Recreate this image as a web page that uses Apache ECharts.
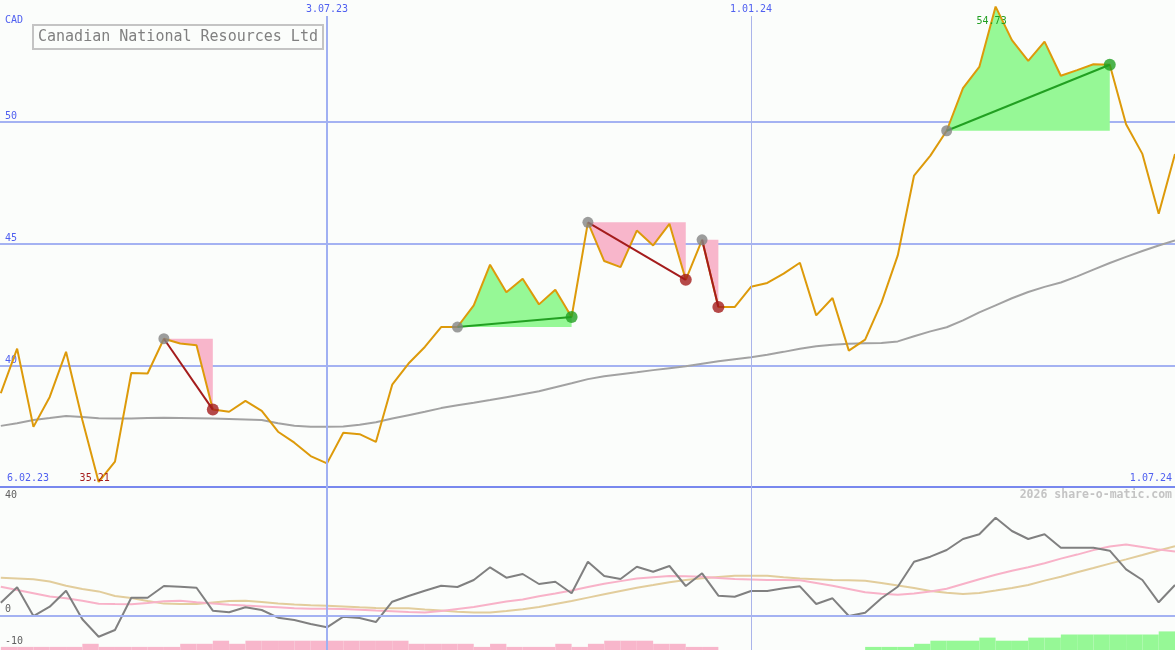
<!DOCTYPE html>
<html><head><meta charset="utf-8">
<script src="https://cdn.jsdelivr.net/npm/echarts@6/dist/echarts.min.js"></script>
<style>html,body{margin:0;padding:0;background:#fbfdfb}#c{width:1175px;height:650px}</style>
</head><body><div id="c"></div>
<script>
// ---- data (weekly points, index 0 = 13.02.23) ----
const chartTitle = 'Canadian National Resources Ltd';
const currency = 'CAD';
const startLabel = '6.02.23';
const endLabel = '1.07.24';
const topTickIdx = [20, 46];
const topTickLabels = ['3.07.23', '1.01.24'];
const lowerTickLabels = ['40', '0', '-10'];
const watermark = '2026 share-o-matic.com';

const price = [38.85,40.68,37.47,38.70,40.55,37.75,35.21,36.04,39.68,39.66,
  41.09,40.89,40.82,38.18,38.09,38.54,38.13,37.27,36.82,36.27,
  35.97,37.23,37.17,36.85,39.20,40.07,40.75,41.57,41.57,42.46,
  44.13,43.00,43.55,42.50,43.10,41.98,45.87,44.28,44.03,45.53,
  44.92,45.81,43.51,45.15,42.39,42.39,43.22,43.38,43.76,44.21,
  42.05,42.76,40.60,41.05,42.57,44.51,47.79,48.61,49.63,51.38,
  52.25,54.73,53.35,52.50,53.29,51.89,52.12,52.36,52.34,49.90,
  48.68,46.22,48.68];
const priceMA = [37.51,37.62,37.75,37.83,37.92,37.87,37.82,37.81,37.81,37.83,
  37.84,37.83,37.82,37.81,37.79,37.77,37.75,37.62,37.52,37.47,
  37.47,37.48,37.56,37.66,37.81,37.95,38.09,38.24,38.36,38.46,
  38.57,38.69,38.81,38.93,39.10,39.26,39.43,39.55,39.63,39.71,
  39.80,39.88,39.96,40.06,40.16,40.25,40.33,40.43,40.55,40.68,
  40.78,40.84,40.88,40.90,40.91,40.98,41.19,41.39,41.56,41.84,
  42.17,42.46,42.75,43.01,43.22,43.40,43.65,43.93,44.20,44.45,
  44.69,44.92,45.12];
const momentum = [4.43,9.57,0,3.1,8.43,-1.1,-6.9,-4.67,6.1,6.1,
  10,9.77,9.43,1.77,1.23,2.9,2,-0.57,-1.33,-2.67,
  -3.77,-0.23,-0.67,-2,4.77,6.67,8.43,10.1,9.67,12,
  16.23,12.77,14,10.67,11.43,7.57,18.1,13.33,12.33,16.43,
  14.77,16.67,10,14.23,6.77,6.43,8.33,8.33,9.23,9.9,
  4,5.9,0,1.1,5.9,9.77,18.1,19.77,22,25.67,
  27.23,32.77,28.33,25.67,27.23,22.77,22.77,22.77,21.77,15.57,
  12,4.57,10.33];
const momFast = [9.77,8.67,7.6,6.5,5.93,5.07,4.07,3.97,3.9,4.33,
  4.9,5.1,4.6,4.13,3.77,3.47,3.2,2.9,2.57,2.43,
  2.43,2.3,2.1,1.8,1.57,1.3,1.2,1.7,2.37,3,
  3.9,4.8,5.53,6.6,7.53,8.5,9.67,10.77,11.63,12.47,
  12.9,13.33,13.23,13.07,12.7,12.33,12.17,12,12,11.9,
  11,10.07,9,7.93,7.43,7.07,7.53,8.17,9.1,10.67,
  12.23,13.77,15.07,16.27,17.57,19.13,20.47,21.97,23.17,23.83,
  23.03,22.13,21.47];
const momSlow = [12.77,12.5,12.23,11.5,10.07,9,8.2,6.67,5.97,5,
  4.13,4,4,4.53,5,5.1,4.67,4.17,3.8,3.57,
  3.4,3.17,2.9,2.7,2.6,2.6,2.2,1.83,1.43,1.2,
  1.13,1.67,2.23,3,4.03,5,6.13,7.23,8.33,9.43,
  10.33,11.27,11.97,12.57,13.03,13.43,13.43,13.43,12.9,12.47,
  12.23,12,11.9,11.77,11.03,10.17,9.33,8.3,7.77,7.33,
  7.67,8.47,9.33,10.33,11.8,13.1,14.6,16,17.47,18.87,
  20.33,21.83,23.27];
// signal strength per week interval (negative = pink, positive = green)
const barLevels = [-1,-1,-1,-1,-1,-2,-1,-1,-1,-1,
  -1,-2,-2,-3,-2,-3,-3,-3,-3,-3,
  -3,-3,-3,-3,-3,-2,-2,-2,-2,-1,
  -2,-1,-1,-1,-2,-1,-2,-3,-3,-3,
  -2,-2,-1,-1,0,0,0,0,0,0,
  0,0,0,1,1,1,2,3,3,3,
  4,3,3,4,4,5,5,5,5,5,
  5,6];
const tradeStart = [10, 28, 36, 43, 58];
const tradeEnd   = [13, 35, 42, 44, 68];

// ---- styling ----
const FONT = 'DejaVu Sans Mono';
const BLUE_TXT = '#5060f0';
const GRID_BLUE = '#a4b2f2';
const PINK = '#f8b6cb';
const GREEN = '#96f896';
const X_MIN = -0.05, X_MAX = 72.0;
const MAIN_TOP = 54.34; // value at the top end of the vertical date lines

const chart = echarts.init(document.getElementById('c'), null, {renderer: 'canvas'});
const win = t => price[tradeEnd[t]] > price[tradeStart[t]];

const scatterData = [];
tradeStart.forEach((s, t) => {
  scatterData.push({value: [s, price[s]], symbolSize: 11, itemStyle: {color: '#858585'}});
  const e = tradeEnd[t];
  scatterData.push({value: [e, price[e]], symbolSize: 12, itemStyle: {color: win(t) ? '#22a022' : '#a41c1c'}});
});

const vLineStyles = [{color: '#a0b0f2', width: 2}, {color: '#aab4ea', width: 1}];

const option = {
  backgroundColor: '#fbfdfb',
  animation: false,
  title: {
    text: chartTitle, left: 33, top: 25, padding: [5, 5, 4, 5],
    borderColor: '#c4c4c4', borderWidth: 2,
    textStyle: {fontFamily: FONT, fontSize: 15, fontWeight: 'normal', color: '#808080'}
  },
  grid: [
    {left: 0, right: 0, top: 0, height: 487},
    {left: 0, right: 0, top: 487, bottom: 0}
  ],
  xAxis: [
    {type: 'value', gridIndex: 0, min: X_MIN, max: X_MAX, position: 'bottom',
     axisLine: {show: true, onZero: false, lineStyle: {color: '#7888ee', width: 2}},
     axisTick: {show: false}, axisLabel: {show: false}, splitLine: {show: false}},
    {type: 'value', gridIndex: 1, min: X_MIN, max: X_MAX, show: false}
  ],
  yAxis: [
    {type: 'value', gridIndex: 0, min: 35, max: 55, interval: 5,
     axisLine: {show: false}, axisTick: {show: false},
     splitLine: {show: true, showMinLine: false, showMaxLine: false, lineStyle: {color: GRID_BLUE, width: 2}},
     axisLabel: {inside: true, showMinLabel: false, showMaxLabel: false, margin: 5,
       verticalAlign: 'bottom', color: BLUE_TXT, fontFamily: FONT, fontSize: 10}},
    {type: 'value', gridIndex: 1, min: -11.33, max: 43, show: false},
    {type: 'value', gridIndex: 1, min: 0, max: 52.6, show: false}
  ],
  graphic: [
    {type: 'text', left: 5, top: 15, style: {text: currency, fill: BLUE_TXT, font: '10px ' + FONT}},
    {type: 'text', left: 7, top: 473, style: {text: startLabel, fill: BLUE_TXT, font: '10px ' + FONT}},
    {type: 'text', right: 3, top: 473, style: {text: endLabel, fill: BLUE_TXT, font: '10px ' + FONT}},
    {type: 'text', right: 3, top: 489, style: {text: watermark, fill: '#c4c4c4', font: 'bold 11.5px ' + FONT}},
    {type: 'text', left: 5, top: 490, style: {text: lowerTickLabels[0], fill: '#606060', font: '10px ' + FONT}},
    {type: 'text', left: 5, top: 604, style: {text: lowerTickLabels[1], fill: '#606060', font: '10px ' + FONT}},
    {type: 'text', left: 5, top: 636, style: {text: lowerTickLabels[2], fill: '#606060', font: '10px ' + FONT}}
  ],
  series: [
    { // trade fills
      type: 'custom', xAxisIndex: 0, yAxisIndex: 0, z: 1, silent: true,
      data: tradeStart.map(s => [s, price[s]]),
      renderItem: (params, api) => {
        const t = params.dataIndex, s = tradeStart[t], e = tradeEnd[t];
        const pts = [];
        for (let i = s; i <= e; i++) pts.push(api.coord([i, price[i]]));
        pts.push(api.coord([e, price[s]]));
        pts.push(api.coord([s, price[s]]));
        return {type: 'polygon', shape: {points: pts}, style: {fill: win(t) ? GREEN : PINK}};
      }
    },
    { // moving average
      type: 'line', xAxisIndex: 0, yAxisIndex: 0, z: 2, symbol: 'none',
      data: priceMA.map((v, i) => [i, v]),
      lineStyle: {color: '#a2a2a2', width: 2},
      markLine: {
        silent: true, symbol: ['none', 'none'], animation: false,
        label: {show: true, position: 'end', distance: 2, formatter: '{b}', color: BLUE_TXT, fontFamily: FONT, fontSize: 10},
        data: topTickIdx.map((k, j) => [
          {name: topTickLabels[j], coord: [k, 35], lineStyle: Object.assign({type: 'solid'}, vLineStyles[j])},
          {coord: [k, MAIN_TOP]}
        ])
      },
      markPoint: {
        symbol: 'circle', symbolSize: 0, silent: true,
        data: [
          {coord: [price.indexOf(Math.max.apply(null, price)), Math.max.apply(null, price)],
           value: Math.max.apply(null, price),
           label: {show: true, formatter: p => Number(p.value).toFixed(2), color: '#22a022', offset: [-4, 15], fontFamily: FONT, fontSize: 10}}
        ]
      }
    },
    { // price
      type: 'line', xAxisIndex: 0, yAxisIndex: 0, z: 3, symbol: 'none',
      data: price.map((v, i) => [i, v]),
      lineStyle: {color: '#dd9a0a', width: 2},
      markPoint: {
        symbol: 'circle', symbolSize: 0, silent: true,
        data: [
          {type: 'min', valueDim: 'y', label: {show: true, formatter: p => Number(p.value).toFixed(2), color: '#a41c1c', offset: [-4, -3], fontFamily: FONT, fontSize: 10}}
        ]
      }
    },
    { // trade connecting lines
      type: 'custom', xAxisIndex: 0, yAxisIndex: 0, z: 4, silent: true,
      data: tradeStart.map(s => [s, price[s]]),
      renderItem: (params, api) => {
        const t = params.dataIndex;
        const a = api.coord([tradeStart[t], price[tradeStart[t]]]);
        const b = api.coord([tradeEnd[t], price[tradeEnd[t]]]);
        return {type: 'line', shape: {x1: a[0], y1: a[1], x2: b[0], y2: b[1]},
          style: {stroke: win(t) ? '#22a022' : '#a41c1c', lineWidth: 2}};
      }
    },
    { // trade points
      type: 'scatter', xAxisIndex: 0, yAxisIndex: 0, z: 5, silent: true,
      data: scatterData
    },
    { // signal bars
      type: 'custom', xAxisIndex: 1, yAxisIndex: 2, z: 1, silent: true,
      data: barLevels.map((v, k) => [k, v]).filter(d => d[1] !== 0),
      renderItem: (params, api) => {
        const k = api.value(0), v = api.value(1);
        const p0 = api.coord([k, 0]);
        const p1 = api.coord([k + 1, Math.abs(v)]);
        return {type: 'rect', shape: {x: p0[0], y: p1[1], width: p1[0] - p0[0], height: p0[1] - p1[1]},
          style: {fill: v > 0 ? GREEN : PINK}};
      }
    },
    { // slow average
      type: 'line', xAxisIndex: 1, yAxisIndex: 1, z: 2, symbol: 'none',
      data: momSlow.map((v, i) => [i, v]),
      lineStyle: {color: '#e2cd9c', width: 2},
      markLine: {
        silent: true, symbol: ['none', 'none'], animation: false, label: {show: false},
        data: [
          {yAxis: 0, lineStyle: {type: 'solid', color: GRID_BLUE, width: 2}}
        ].concat(topTickIdx.map((k, j) => [
          {coord: [k, -11.33], lineStyle: Object.assign({type: 'solid'}, vLineStyles[j])},
          {coord: [k, 43]}
        ]))
      }
    },
    { // fast average
      type: 'line', xAxisIndex: 1, yAxisIndex: 1, z: 3, symbol: 'none',
      data: momFast.map((v, i) => [i, v]),
      lineStyle: {color: '#f8b2c8', width: 2}
    },
    { // momentum
      type: 'line', xAxisIndex: 1, yAxisIndex: 1, z: 4, symbol: 'none',
      data: momentum.map((v, i) => [i, v]),
      lineStyle: {color: '#808080', width: 2}
    }
  ]
};
chart.setOption(option);
</script>
</body></html>
